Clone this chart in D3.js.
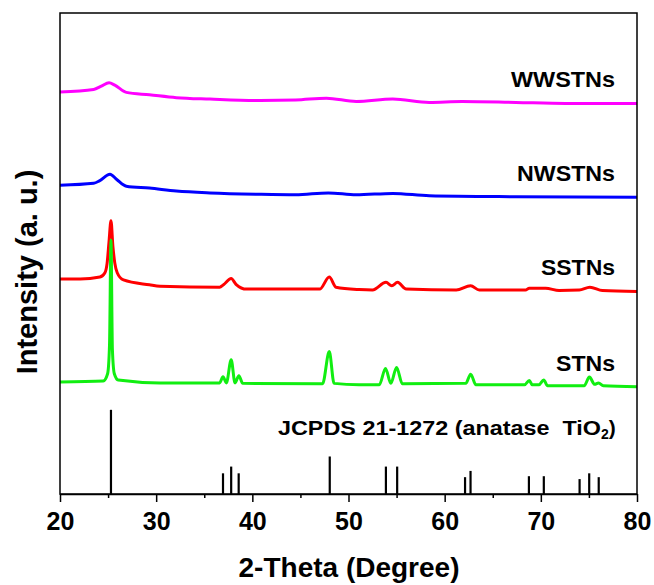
<!DOCTYPE html>
<html>
<head>
<meta charset="utf-8">
<script src="https://cdn.jsdelivr.net/npm/d3@7"></script>
<style>
  html, body { margin: 0; padding: 0; background: #fff; }
  svg { display: block; }
  text { font-family: "Liberation Sans", Arial, sans-serif; font-weight: bold; fill: #000; }
</style>
</head>
<body>
<svg id="chart" width="654" height="585"></svg>
<script>
// ---------------- DATA ----------------
const seriesNames = ["WWSTNs", "NWSTNs", "SSTNs", "STNs"];
const seriesColors = ["#ff00ff", "#0000ff", "#ff0000", "#11ee11"];

const thetaWW = [20, 23.5, 24.3, 25.1, 25.7, 26.9, 29.3, 32.1, 35.6, 40.8, 44.5, 47.7, 50.8, 54.6, 58.4, 61.8, 67.4, 72.6, 80];
const intWW   = [83.6, 84.1, 84.8, 85.5, 85.0, 83.5, 83.0, 82.4, 82.1, 81.8, 81.9, 82.3, 81.6, 82.1, 81.4, 81.6, 81.4, 81.2, 81.2];

const thetaNW = [20, 23.5, 24.1, 25.2, 25.9, 26.9, 29.3, 32.1, 35.6, 40.8, 44.5, 47.9, 50.8, 54.6, 58.4, 67.4, 80];
const intNW   = [64.2, 64.6, 65.1, 66.5, 65.4, 64.0, 63.6, 63.0, 62.6, 62.3, 62.2, 62.6, 62.2, 62.5, 62.0, 61.8, 61.7];

const thetaSS = [20, 22.1, 24.15, 24.67, 24.9, 25.1, 25.3, 25.5, 25.7, 25.95, 26.6, 29.3, 30.4, 36.6, 37.0, 37.8, 38.3, 39.4, 47.0, 48.0, 48.7, 51.1, 52.5, 53.9, 54.5, 55.1, 56.0, 61.2, 62.7, 63.6, 68.4, 68.8, 70.5, 71.9, 74.0, 75.1, 76.4, 80];
const intSS   = [44.7, 44.7, 45.1, 46.0, 48.0, 52.5, 56.8, 51.5, 48.0, 46.0, 44.5, 43.5, 43.2, 43.0, 43.5, 44.8, 43.6, 42.6, 42.6, 45.1, 43.0, 42.5, 42.4, 44.0, 43.3, 44.0, 42.6, 42.4, 43.3, 42.4, 42.4, 42.8, 42.8, 42.3, 42.4, 43.0, 42.3, 42.1];

const thetaST = [20, 24.5, 24.95, 25.15, 25.3, 25.45, 25.65, 26.05, 30.4, 36.6, 36.95, 37.3, 37.8, 38.2, 38.6, 39.0, 47.3, 48.0, 48.5, 51.1, 53.2, 53.85, 54.4, 55.0, 55.6, 62.2, 62.7, 63.25, 68.3, 68.8, 69.1, 69.8, 70.3, 70.7, 74.5, 75.05, 75.6, 76.0, 76.5, 80];
const intST   = [23.3, 23.5, 25.0, 31.0, 52.8, 30.0, 25.0, 23.7, 23.1, 23.1, 24.4, 23.1, 27.9, 23.1, 24.6, 23.0, 22.9, 29.6, 23.0, 22.7, 22.7, 26.1, 23.0, 26.3, 22.9, 23.0, 24.9, 22.7, 22.7, 23.6, 22.7, 22.7, 23.7, 22.5, 22.5, 24.3, 22.8, 23.1, 22.5, 22.3];

// JCPDS 21-1272 reference lines (anatase TiO2)
const refTheta  = [25.3, 36.95, 37.8, 38.58, 48.05, 53.89, 55.06, 62.12, 62.69, 68.76, 70.31, 74.03, 75.03, 76.02];
const refHeight = [17.5, 4.3, 5.7, 4.3, 7.8, 5.7, 5.7, 3.5, 4.8, 3.7, 3.7, 3.1, 4.3, 3.5];

const xMajorTicks = [20, 30, 40, 50, 60, 70, 80];
const xMinorTicks = [25, 35, 45, 55, 65, 75];
const xTitle = "2-Theta (Degree)";
const yTitle = "Intensity (a. u.)";
const refLabel = "JCPDS 21-1272 (anatase  TiO";
const refLabelSub = "2";

// ---------------- CHART ----------------
const svg = d3.select("#chart");
const m = { left: 60, right: 637, top: 13, bottom: 494 };

const x = d3.scaleLinear().domain([20, 80]).range([m.left, m.right]);
const y = d3.scaleLinear().domain([0, 100]).range([m.bottom, m.top]);

const series = [
  { name: seriesNames[0], color: seriesColors[0], t: thetaWW, v: intWW, w: 104 },
  { name: seriesNames[1], color: seriesColors[1], t: thetaNW, v: intNW, w: 98 },
  { name: seriesNames[2], color: seriesColors[2], t: thetaSS, v: intSS, w: 74 },
  { name: seriesNames[3], color: seriesColors[3], t: thetaST, v: intST, w: 59 }
];

const line = d3.line().x(d => x(d[0])).y(d => y(d[1])).curve(d3.curveMonotoneX);

svg.append("g").selectAll("path")
  .data(series)
  .join("path")
  .attr("d", s => line(s.t.map((t, i) => [t, s.v[i]])))
  .attr("fill", "none")
  .attr("stroke", s => s.color)
  .attr("stroke-width", 3)
  .attr("stroke-linejoin", "round");

// series labels
svg.append("g").selectAll("text")
  .data(series)
  .join("text")
  .attr("x", 615)
  .attr("y", s => y(s.v[s.v.length - 1]) - 16)
  .attr("text-anchor", "end")
  .attr("font-size", 22)
  .attr("textLength", s => s.w)
  .attr("lengthAdjust", "spacingAndGlyphs")
  .text(s => s.name);

// reference sticks
svg.append("g").selectAll("line")
  .data(refTheta.map((t, i) => [t, refHeight[i]]))
  .join("line")
  .attr("x1", d => x(d[0])).attr("x2", d => x(d[0]))
  .attr("y1", y(0)).attr("y2", d => y(d[1]))
  .attr("stroke", "#000")
  .attr("stroke-width", 2.2);

const rl = svg.append("text")
  .attr("x", 278).attr("y", 435)
  .attr("font-size", 21)
  .attr("xml:space", "preserve")
  .style("white-space", "pre");
rl.append("tspan").attr("textLength", 323).attr("lengthAdjust", "spacingAndGlyphs").text(refLabel);
rl.append("tspan").attr("font-size", 14).attr("dy", 4).text(refLabelSub);
rl.append("tspan").attr("dy", -4).text(")");

// frame
svg.append("rect")
  .attr("x", m.left).attr("y", m.top)
  .attr("width", m.right - m.left).attr("height", m.bottom - m.top)
  .attr("fill", "none").attr("stroke", "#000").attr("stroke-width", 1.5);

// x axis
const xAxis = d3.axisBottom(x).tickValues(xMajorTicks).tickSize(8).tickSizeOuter(0).tickFormat(d3.format("d"));
const gx = svg.append("g").attr("transform", `translate(0,${m.bottom})`).call(xAxis);
gx.select(".domain").attr("stroke-width", 1.5);
gx.selectAll(".tick line").attr("stroke-width", 1.5);
gx.selectAll(".tick text")
  .attr("font-size", 25)
  .attr("font-family", "Liberation Sans, Arial, sans-serif")
  .attr("font-weight", "bold")
  .attr("fill", "#000")
  .attr("dy", null)
  .attr("y", 36);

const xMinor = d3.axisBottom(x).tickValues(xMinorTicks).tickSize(4).tickSizeOuter(0).tickFormat("");
const gxm = svg.append("g").attr("transform", `translate(0,${m.bottom})`).call(xMinor);
gxm.select(".domain").remove();
gxm.selectAll(".tick line").attr("stroke-width", 1.5);

// titles
svg.append("text")
  .attr("x", 349).attr("y", 577)
  .attr("text-anchor", "middle")
  .attr("font-size", 28)
  .text(xTitle);

svg.append("text")
  .attr("transform", "translate(37,272) rotate(-90)")
  .attr("text-anchor", "middle")
  .attr("font-size", 29)
  .text(yTitle);
</script>
</body>
</html>
